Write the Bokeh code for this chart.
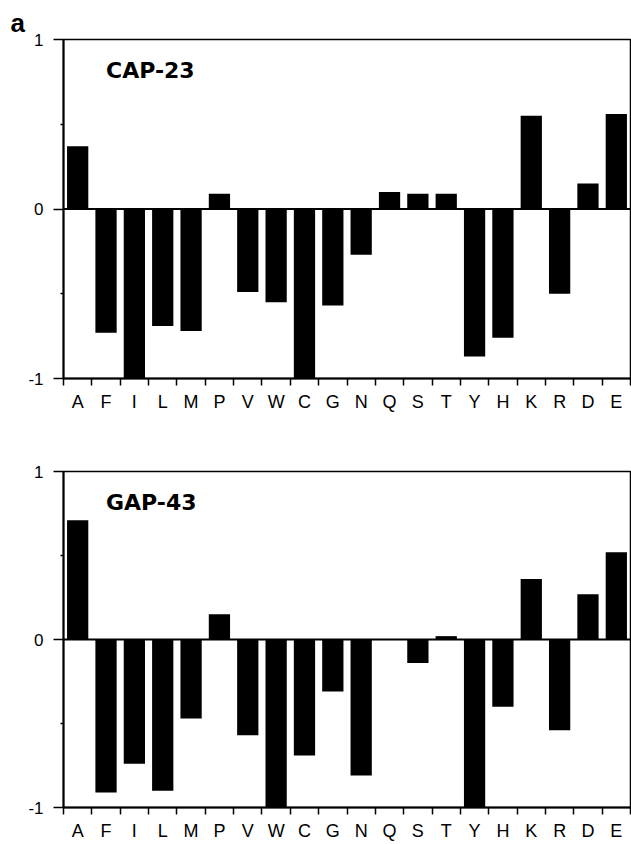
from bokeh.plotting import figure
from bokeh.layouts import column
from bokeh.models import Range1d, FixedTicker, Span, Label, LinearAxis
from bokeh.embed import file_html
from bokeh.resources import INLINE

categories = ["A", "F", "I", "L", "M", "P", "V", "W", "C", "G",
              "N", "Q", "S", "T", "Y", "H", "K", "R", "D", "E"]
cap23 = [0.37, -0.73, -1.0, -0.69, -0.72, 0.09, -0.49, -0.55, -1.0, -0.57,
         -0.27, 0.10, 0.09, 0.09, -0.87, -0.76, 0.55, -0.50, 0.15, 0.56]
gap43 = [0.71, -0.91, -0.74, -0.90, -0.47, 0.15, -0.57, -1.0, -0.69, -0.31,
         -0.81, 0.0, -0.14, 0.02, -1.0, -0.40, 0.36, -0.54, 0.27, 0.52]
y_ticks = [-1, 0, 1]
y_tick_labels = ["-1", "0", "1"]
y_minor = [-0.5, 0.5]

FONT = "Liberation Sans"


def make_panel(values, title, border_top, border_bottom, height, panel_letter=None):
    n = len(categories)
    p = figure(width=631, height=height, output_backend="svg", toolbar_location=None,
               x_range=Range1d(0, n), y_range=Range1d(-1, 1),
               min_border_left=63, min_border_right=1,
               min_border_top=border_top, min_border_bottom=border_bottom)
    p.grid.visible = False
    p.outline_line_color = "black"
    p.outline_line_width = 1.5
    p.background_fill_color = "white"
    p.border_fill_color = "white"

    xs = [i + 0.5 for i in range(n)]
    p.vbar(x=xs, top=values, bottom=0, width=0.75, fill_color="black", line_color=None)
    p.add_layout(Span(location=0, dimension="width", line_color="black", line_width=2))

    # x axis 1: tick marks on the category boundaries, no labels
    xa = p.xaxis[0]
    bounds = list(range(n + 1))
    xa.ticker = FixedTicker(ticks=bounds)
    xa.major_label_overrides = {b: "" for b in bounds}
    xa.major_label_text_font_size = "1px"
    xa.major_label_standoff = 0
    xa.major_tick_out = 7
    xa.major_tick_in = 0
    xa.major_tick_line_width = 1.5
    xa.major_tick_line_color = "black"
    xa.axis_line_width = 2
    xa.axis_line_color = "black"

    # x axis 2: category letters centred under the bars
    lab = LinearAxis(ticker=FixedTicker(ticks=xs),
                     major_label_overrides={x: c for x, c in zip(xs, categories)},
                     major_tick_line_color=None, major_tick_out=0, major_tick_in=0,
                     axis_line_color=None, major_label_standoff=6,
                     major_label_text_font=FONT, major_label_text_font_size="18px",
                     major_label_text_color="black")
    p.add_layout(lab, "below")

    ya = p.yaxis[0]
    ya.ticker = FixedTicker(ticks=y_ticks, minor_ticks=y_minor)
    ya.major_label_overrides = {t: s for t, s in zip(y_ticks, y_tick_labels)}
    ya.major_tick_out = 10
    ya.major_tick_in = 0
    ya.major_tick_line_width = 1.5
    ya.major_tick_line_color = "black"
    ya.minor_tick_out = 3
    ya.minor_tick_in = 0
    ya.minor_tick_line_width = 1.5
    ya.minor_tick_line_color = "black"
    ya.axis_line_width = 2
    ya.axis_line_color = "black"
    ya.major_label_standoff = 10
    ya.major_label_text_font = FONT
    ya.major_label_text_font_size = "17px"
    ya.major_label_text_color = "black"

    p.add_layout(Label(x=1.5, y=0.815, text=title, text_font="DejaVu Sans",
                       text_font_style="bold", text_font_size="22px",
                       text_color="black", text_baseline="alphabetic"))
    if panel_letter:
        p.title.text = panel_letter
        p.title.align = "left"
        p.title.offset = -53
        p.title.standoff = 4
        p.title.text_font = FONT
        p.title.text_font_style = "bold"
        p.title.text_font_size = "26px"
        p.title.text_color = "black"
    return p


top = make_panel(cap23, "CAP-23", 39, 46, 424, panel_letter="a")
bottom = make_panel(gap43, "GAP-43", 47, 33, 419)

layout = column(top, bottom, spacing=0)
open("out.html", "w").write(file_html(layout, INLINE))
